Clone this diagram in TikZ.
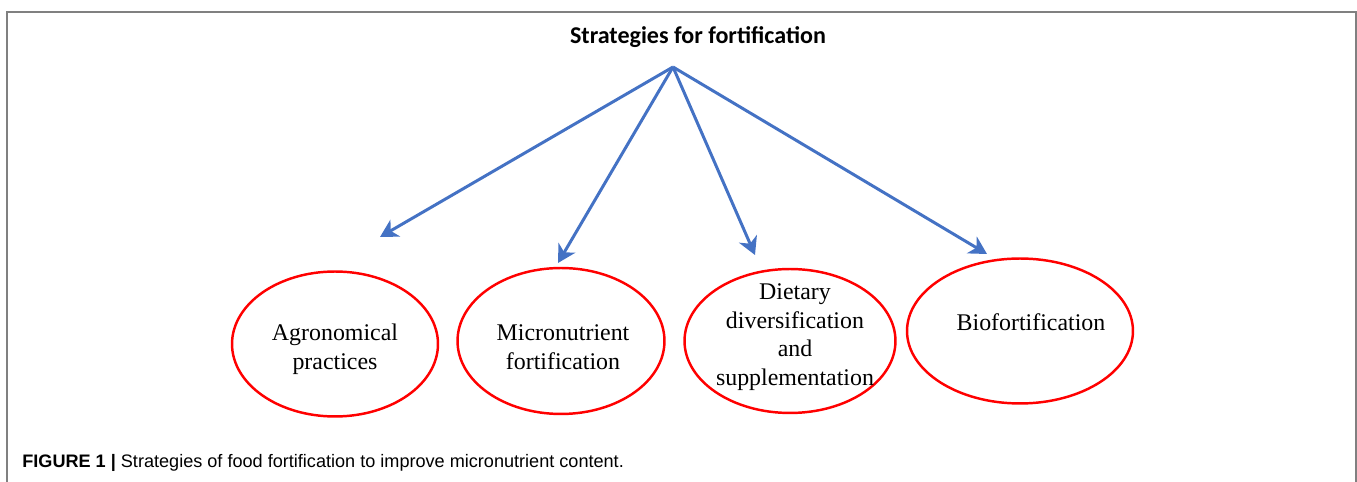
\documentclass[tikz,border=0pt]{standalone}
\usepackage{fontspec}
\setmainfont{Liberation Serif}
\newfontfamily\titelFont{Carlito}
\newfontfamily\unterschriftFont{Liberation Sans}
\usepackage{tikz}
\usetikzlibrary{arrows.meta,shapes.geometric,positioning}
\definecolor{pfeilblau}{RGB}{68,114,196}

\begin{document}
\begin{tikzpicture}[x=0.02cm,y=-0.02cm,
  oval/.style={ellipse,draw=red,line width=1.4pt,inner sep=0pt},
  schrift/.style={align=center,inner sep=0pt,font=\fontsize{13.6}{16.3}\selectfont},
  pfeil/.style={draw=pfeilblau,line width=1.7pt,-{Stealth[length=10pt,width=11pt,inset=3pt]}}]
%Koordinaten in Pixeln des Originals, y nach unten
\useasboundingbox (0,0) rectangle (1357,482);
%Rahmen, unten offen
\draw[gray,line width=1pt] (7,482) -- (7,12) -- (1356,12) -- (1356,482);
\node[anchor=base,inner sep=0pt,font=\titelFont\bfseries\fontsize{13.7}{16}\selectfont] (titel) at (698,44) {Strategies for fortification};
%Pfeilspitze oben und Pfeilenden
\coordinate (spitze) at (673,67);
\coordinate (ende1) at (380,237);
\coordinate (ende2) at (558,263);
\coordinate (ende3) at (755,255);
\coordinate (ende4) at (987,254);
\foreach \ziel in {ende1,ende2,ende3,ende4}{
\draw[pfeil] (spitze) -- (\ziel);
}
%Ellipsen
\node[oval,minimum width=4.12cm,minimum height=2.9cm] (agro) at (335,344) {};
\node[oval,minimum width=4.14cm,minimum height=2.92cm] (mikro) at (561,341) {};
\node[oval,minimum width=4.22cm,minimum height=2.88cm] (diaet) at (790,341) {};
\node[oval,minimum width=4.52cm,minimum height=2.9cm] (bio) at (1020,331) {};
\node[schrift] (agroText) at (335,349) {Agronomical\\practices};
\node[schrift] (mikroText) at (563,347) {Micronutrient\\fortification};
\node[schrift] (diaetText) at (795,337) {Dietary\\diversification\\and\\supplementation};
\node[schrift] (bioText) at (1031,322) {Biofortification};
%Bildunterschrift
\node[anchor=base west,inner sep=0pt,font=\unterschriftFont\fontsize{10.3}{12}\selectfont] (unterschrift) at (22,468) {\textbf{FIGURE 1 |} Strategies of food fortification to improve micronutrient content.};
\end{tikzpicture}
\end{document}
